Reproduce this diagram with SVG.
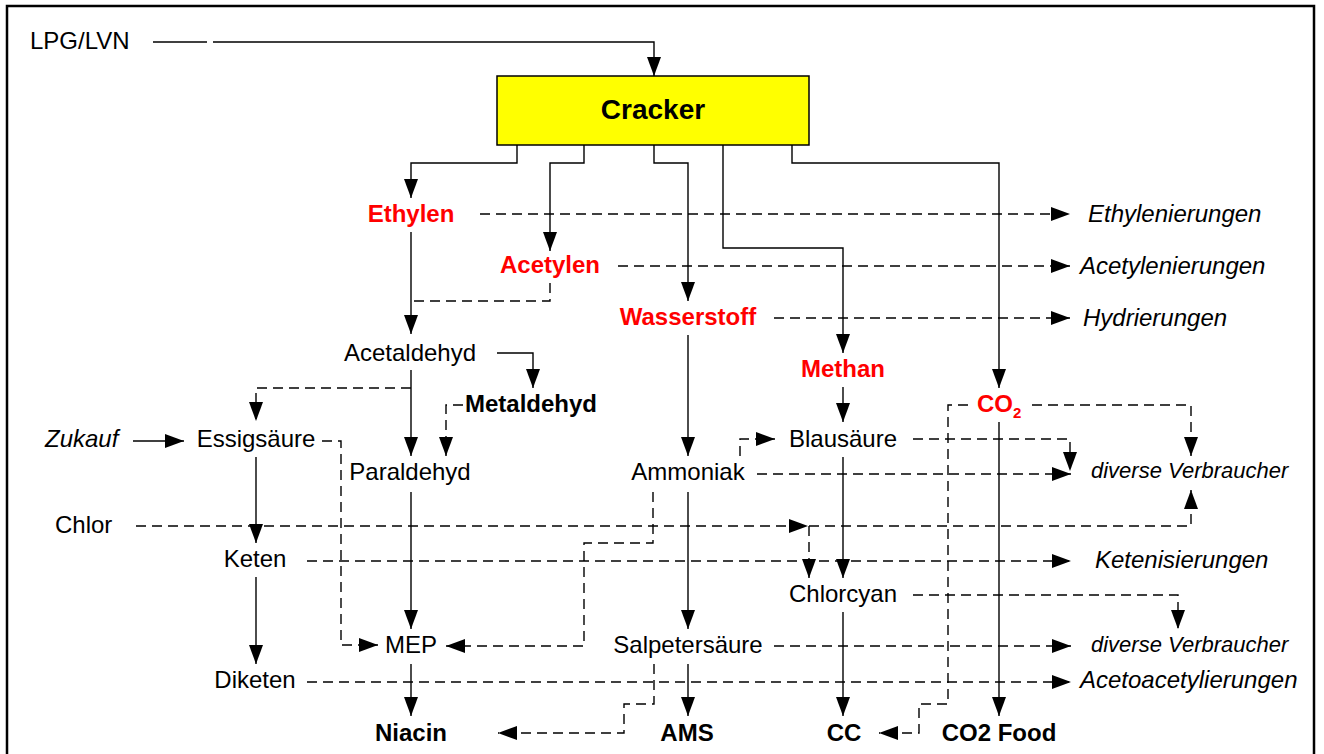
<svg xmlns="http://www.w3.org/2000/svg" width="1324" height="754" viewBox="0 0 1324 754">
<style>
text{font-family:"Liberation Sans",Arial,Helvetica,sans-serif;font-size:24px;fill:#000}
.b{font-weight:bold}
.r{fill:#FF0000}
.i{font-style:italic}
.s{font-size:22px}
.m{text-anchor:middle}
.sol{fill:none;stroke:#000;stroke-width:1.4}
.dsh{fill:none;stroke:#000;stroke-width:1.4;stroke-dasharray:10 6}
.arr{marker-end:url(#ah)}
</style>
<defs>
<marker id="ah" markerUnits="userSpaceOnUse" markerWidth="20" markerHeight="15" refX="19" refY="7.5" orient="auto">
<path d="M0,0.5 L19,7.5 L0,14.5 Z" fill="#000"/>
</marker>
</defs>
<rect x="0" y="0" width="1324" height="754" fill="#fff"/>
<rect id="frame" x="7" y="6" width="1307" height="770" fill="none" stroke="#000" stroke-width="2.5"/>

<g id="connectors">
<path class="sol" d="M153,42 H207"/>
<path class="sol arr" d="M213,42 H654 V76"/>
<path class="sol arr" d="M517,145 V163 H411 V198"/>
<path class="sol arr" d="M584,145 V163 H550 V251"/>
<path class="sol arr" d="M654,145 V163 H688 V301"/>
<path class="sol arr" d="M723,145 V248 H843 V353"/>
<path class="sol arr" d="M792,145 V163 H999 V388"/>
<path class="sol arr" d="M411,232 V334"/>
<path class="sol arr" d="M411,370 V456"/>
<path class="sol arr" d="M411,492 V629"/>
<path class="sol arr" d="M411,664 V716"/>
<path class="sol arr" d="M497,353 H533 V388"/>
<path class="sol arr" d="M133,441 H184"/>
<path class="sol arr" d="M256,457 V543"/>
<path class="sol arr" d="M256,577 V664"/>
<path class="sol arr" d="M688,335 V456"/>
<path class="sol arr" d="M688,492 V629"/>
<path class="sol arr" d="M688,664 V716"/>
<path class="sol arr" d="M843,387 V422"/>
<path class="sol arr" d="M843,457 V578"/>
<path class="sol arr" d="M843,612 V716"/>
<path class="sol arr" d="M999,422 V716"/>
<path class="dsh arr" d="M480,214 H1070"/>
<path class="dsh arr" d="M618,266 H1070"/>
<path class="dsh" d="M550,283 V301 H413"/>
<path class="dsh arr" d="M774,318 H1070"/>
<path class="dsh arr" d="M411,388 H256 V421"/>
<path class="dsh arr" d="M463,405 H446 V456"/>
<path class="dsh arr" d="M322,441 H341 V645 H378"/>
<path class="dsh arr" d="M740,456 V439 H775"/>
<path class="dsh arr" d="M913,439 H1070 V471"/>
<path class="dsh arr" d="M757,474 H1071"/>
<path class="dsh arr" d="M1032,405 H1191 V456"/>
<path class="dsh arr" d="M968,405 H948 V704 H919 V733 H879"/>
<path class="dsh arr" d="M136,526 H808"/>
<path class="dsh arr" d="M809,526 H1191 V490"/>
<path class="dsh arr" d="M809,526 V578"/>
<path class="dsh arr" d="M307,561 H1071"/>
<path class="dsh arr" d="M653,492 V543 H584 V646 H446"/>
<path class="dsh arr" d="M913,595 H1178 V629"/>
<path class="dsh arr" d="M774,646 H1071"/>
<path class="dsh arr" d="M307,682 H1071"/>
<path class="dsh arr" d="M654,664 V704 H624 V733 H498"/>
</g>

<g id="n-lpg"><text x="30" y="49">LPG/LVN</text></g>
<g id="n-cracker"><rect x="497" y="76" width="312" height="69" fill="#FFFF00" stroke="#000" stroke-width="1.5"/><text class="b m" x="653" y="119" style="font-size:28px">Cracker</text></g>
<g id="n-ethylen"><text class="b r m" x="411" y="222">Ethylen</text></g>
<g id="n-acetylen"><text class="b r m" x="550" y="273">Acetylen</text></g>
<g id="n-wasserstoff"><text class="b r m" x="688" y="325">Wasserstoff</text></g>
<g id="n-methan"><text class="b r m" x="843" y="377">Methan</text></g>
<g id="n-co2"><text class="b r" x="977" y="412">CO<tspan dy="6" style="font-size:15px">2</tspan></text></g>
<g id="n-ethylenierungen"><text class="i" x="1088" y="222">Ethylenierungen</text></g>
<g id="n-acetylenierungen"><text class="i" x="1080" y="274">Acetylenierungen</text></g>
<g id="n-hydrierungen"><text class="i" x="1083" y="326">Hydrierungen</text></g>
<g id="n-acetaldehyd"><text class="m" x="410" y="361">Acetaldehyd</text></g>
<g id="n-metaldehyd"><text class="b" x="465" y="412">Metaldehyd</text></g>
<g id="n-zukauf"><text class="i" x="45" y="447">Zukauf</text></g>
<g id="n-essigsaeure"><text class="m" x="256" y="447">Essigsäure</text></g>
<g id="n-paraldehyd"><text class="m" x="410" y="480">Paraldehyd</text></g>
<g id="n-blausaeure"><text class="m" x="843" y="447">Blausäure</text></g>
<g id="n-ammoniak"><text class="m" x="688" y="480">Ammoniak</text></g>
<g id="n-dv1"><text class="i s" x="1091" y="478">diverse Verbraucher</text></g>
<g id="n-chlor"><text x="55" y="533">Chlor</text></g>
<g id="n-keten"><text class="m" x="255" y="567">Keten</text></g>
<g id="n-ketenisierungen"><text class="i" x="1095" y="568">Ketenisierungen</text></g>
<g id="n-chlorcyan"><text class="m" x="843" y="602">Chlorcyan</text></g>
<g id="n-mep"><text class="m" x="411" y="653">MEP</text></g>
<g id="n-salpetersaeure"><text class="m" x="688" y="653">Salpetersäure</text></g>
<g id="n-dv2"><text class="i s" x="1091" y="652">diverse Verbraucher</text></g>
<g id="n-diketen"><text class="m" x="255" y="688">Diketen</text></g>
<g id="n-acetoacetylierungen"><text class="i" x="1080" y="688">Acetoacetylierungen</text></g>
<g id="n-niacin"><text class="b m" x="411" y="741">Niacin</text></g>
<g id="n-ams"><text class="b m" x="687" y="741">AMS</text></g>
<g id="n-cc"><text class="b m" x="844" y="741">CC</text></g>
<g id="n-co2food"><text class="b m" x="999" y="741">CO2 Food</text></g>
</svg>
